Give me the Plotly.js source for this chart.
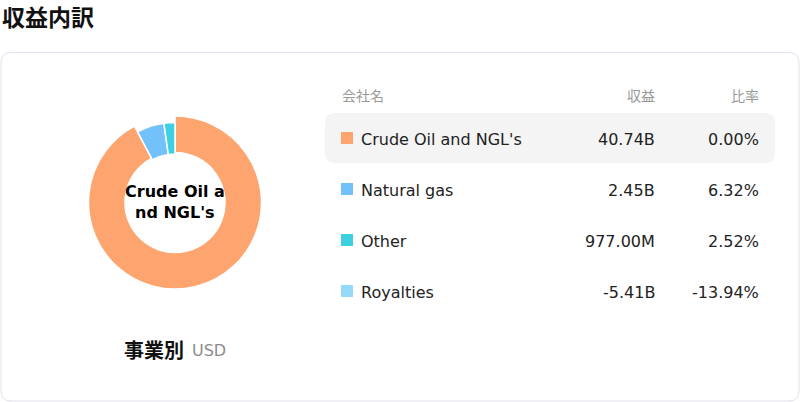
<!DOCTYPE html>
<html>
<head>
<meta charset="utf-8">
<script src="https://cdn.plot.ly/plotly-3.0.1.min.js"></script>
<style>
  html, body { margin: 0; padding: 0; background: #fff; }
  #chart { width: 800px; height: 402px; }
</style>
</head>
<body>
<div id="chart"></div>
<script>
// data
var segments = ['Crude Oil and NGL\'s', 'Natural gas', 'Other', 'Royalties'];
var revenue = [40.74e9, 2.45e9, 977.00e6, -5.41e9];
var revenueLabels = ['40.74B', '2.45B', '977.00M', '-5.41B'];
var ratioLabels = ['0.00%', '6.32%', '2.52%', '-13.94%'];
var colors = ['#FDA46F', '#73C1FB', '#3FCFE3', '#95DAF9'];
var headers = ['会社名', '収益', '比率'];
var centerLines = ['Crude Oil a', 'nd NGL\'s'];

var selected = 0; // highlighted segment

var jp = '"Noto Sans CJK JP", "DejaVu Sans", sans-serif';
var latin = '"DejaVu Sans", sans-serif';

// pie can only show positive values
var pieLabels = [], pieValues = [], pieColors = [];
for (var i = 0; i < segments.length; i++) {
  if (revenue[i] > 0) {
    pieLabels.push(segments[i]);
    pieValues.push(revenue[i]);
    pieColors.push(colors[i]);
  }
}

// px -> paper helpers for pie domains
function px(x) { return x / 800; }
function py(y) { return 1 - y / 402; }

var cx = 175, cy = 202.5;
var bigR = 86.5, smallR = 80;

function sliceColors(big) {
  return pieColors.map(function(c, k) {
    var isSel = (k === selected);
    return (isSel === big) ? c : 'rgba(0,0,0,0)';
  });
}
function lineColors(big) {
  return pieColors.map(function(c, k) {
    return ((k === selected) === big) ? '#ffffff' : 'rgba(0,0,0,0)';
  });
}

var bigPie = {
  type: 'pie',
  labels: pieLabels,
  values: pieValues,
  sort: false,
  direction: 'clockwise',
  rotation: 0,
  hole: 50 / bigR,
  textinfo: 'none',
  hoverinfo: 'none',
  marker: { colors: sliceColors(true), line: { color: lineColors(true), width: 1.5 } },
  domain: { x: [px(cx - bigR), px(cx + bigR)], y: [py(cy + bigR), py(cy - bigR)] }
};

var smallPie = {
  type: 'pie',
  labels: pieLabels,
  values: pieValues,
  sort: false,
  direction: 'clockwise',
  rotation: 0,
  hole: 48.5 / smallR,
  textinfo: 'none',
  hoverinfo: 'none',
  marker: { colors: sliceColors(false), line: { color: lineColors(false), width: 1.5 } },
  domain: { x: [px(cx - smallR), px(cx + smallR)], y: [py(cy + smallR), py(cy - smallR)] }
};

function roundRect(x0, y0, x1, y1, r) {
  return 'M' + (x0 + r) + ',' + y0 +
    ' L' + (x1 - r) + ',' + y0 + ' Q' + x1 + ',' + y0 + ' ' + x1 + ',' + (y0 + r) +
    ' L' + x1 + ',' + (y1 - r) + ' Q' + x1 + ',' + y1 + ' ' + (x1 - r) + ',' + y1 +
    ' L' + (x0 + r) + ',' + y1 + ' Q' + x0 + ',' + y1 + ' ' + x0 + ',' + (y1 - r) +
    ' L' + x0 + ',' + (y0 + r) + ' Q' + x0 + ',' + y0 + ' ' + (x0 + r) + ',' + y0 + ' Z';
}

var shapes = [];
var annotations = [];

// card
shapes.push({ type: 'path', xref: 'x', yref: 'y', path: roundRect(1, 52.5, 799, 401, 10),
  line: { color: '#E2E0EE', width: 1 }, fillcolor: 'rgba(0,0,0,0)', layer: 'below' });

function addText(text, x, y, anchor, size, color, family, bold) {
  annotations.push({
    xref: 'x', yref: 'y', x: x, y: y, xanchor: anchor, yanchor: 'middle',
    text: bold ? '<b>' + text + '</b>' : text,
    showarrow: false, borderpad: 0,
    font: { size: size, color: color, family: family }
  });
}

// title
addText('収益内訳', 0.5, 16, 'left', 23, '#111', jp, true);

// donut center label, wrapped like the original
addText(centerLines[0], cx, 191.5, 'center', 16, '#000', latin, true);
addText(centerLines[1], cx, 212.5, 'center', 16, '#000', latin, true);

// bottom caption
addText('事業別', 123, 349, 'left', 20, '#111', jp, true);
addText('USD', 191, 350, 'left', 16, '#8c8c8c', latin, false);

// table header
addText(headers[0], 341, 95, 'left', 14, '#999', jp, false);
addText(headers[1], 656, 95, 'right', 14, '#999', jp, false);
addText(headers[2], 760, 95, 'right', 14, '#999', jp, false);

// table rows
var rowY0 = 138, rowStep = 51;
for (var r = 0; r < segments.length; r++) {
  var y = rowY0 + r * rowStep;
  if (r === selected) {
    shapes.push({ type: 'path', xref: 'x', yref: 'y', path: roundRect(325, y - 25, 775, y + 25, 10),
      line: { width: 0 }, fillcolor: '#F4F4F5', layer: 'below' });
  }
  shapes.push({ type: 'rect', xref: 'x', yref: 'y', x0: 341, x1: 353, y0: y - 6, y1: y + 6,
    line: { width: 0 }, fillcolor: colors[r] });
  addText(segments[r], 360, y + 1, 'left', 16, '#222', latin, false);
  addText(revenueLabels[r], 656, y + 1, 'right', 16, '#222', latin, false);
  addText(ratioLabels[r], 760, y + 1, 'right', 16, '#222', latin, false);
}

var layout = {
  width: 800,
  height: 402,
  margin: { l: 0, r: 0, t: 0, b: 0 },
  paper_bgcolor: '#ffffff',
  plot_bgcolor: 'rgba(0,0,0,0)',
  showlegend: false,
  xaxis: { range: [0, 800], visible: false, fixedrange: true },
  yaxis: { range: [402, 0], visible: false, fixedrange: true },
  shapes: shapes,
  annotations: annotations
};

document.addEventListener('DOMContentLoaded', function() {
  Plotly.newPlot('chart', [bigPie, smallPie], layout, { staticPlot: true, displayModeBar: false });
});
</script>
</body>
</html>
